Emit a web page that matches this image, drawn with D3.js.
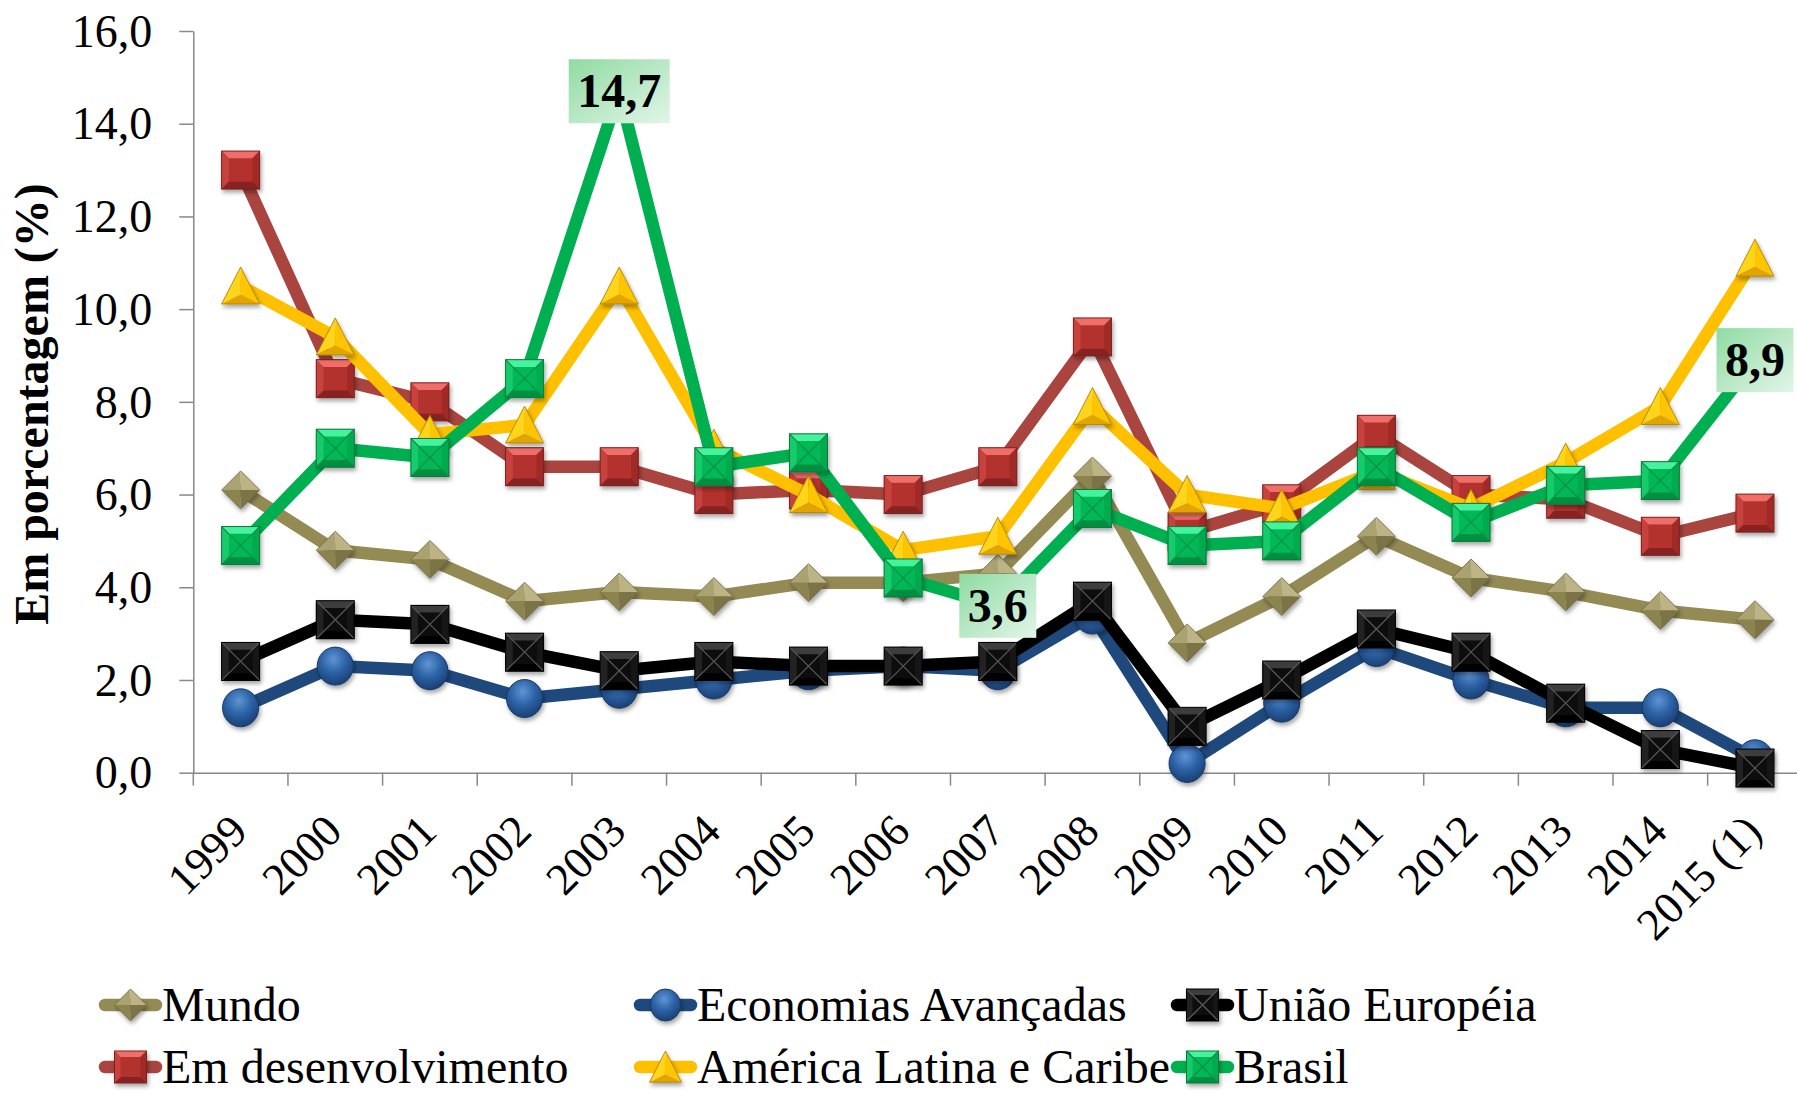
<!DOCTYPE html>
<html><head><meta charset="utf-8">
<script src="https://cdn.jsdelivr.net/npm/d3@7"></script>
<style>body{margin:0;background:#fff} svg{display:block}</style>
</head><body>
<svg id="chart" width="1797" height="1094"></svg>
<script>
// ---------- data ----------
const categories = ["1999","2000","2001","2002","2003","2004","2005","2006","2007","2008","2009","2010","2011","2012","2013","2014","2015 (1)"];
const mundo              = [6.1, 4.8, 4.6, 3.7, 3.9, 3.8, 4.1, 4.1, 4.3, 6.4, 2.8, 3.8, 5.1, 4.2, 3.9, 3.5, 3.3];
const economiasAvancadas = [1.4, 2.3, 2.2, 1.6, 1.8, 2.0, 2.2, 2.3, 2.2, 3.4, 0.2, 1.5, 2.7, 2.0, 1.4, 1.4, 0.3];
const uniaoEuropeia      = [2.4, 3.3, 3.2, 2.6, 2.2, 2.4, 2.3, 2.3, 2.4, 3.7, 1.0, 2.0, 3.1, 2.6, 1.5, 0.5, 0.1];
const emDesenvolvimento  = [13.0, 8.5, 8.0, 6.6, 6.6, 6.0, 6.1, 6.0, 6.6, 9.4, 5.2, 5.8, 7.3, 6.0, 5.9, 5.1, 5.6];
const americaLatina      = [10.5, 9.4, 7.3, 7.5, 10.5, 7.0, 6.0, 4.8, 5.1, 7.9, 6.0, 5.7, 6.5, 5.7, 6.7, 7.9, 11.1];
const brasil             = [4.9, 7.0, 6.8, 8.5, 14.7, 6.6, 6.9, 4.2, 3.6, 5.7, 4.9, 5.0, 6.6, 5.4, 6.2, 6.3, 8.9];
const yTicks = [0, 2, 4, 6, 8, 10, 12, 14, 16];
const brasilLabelIndexes = [4, 8, 16];
const yTitle = "Em porcentagem (%)";

// ---------- styles ----------
const FONT = "'Liberation Serif','Times New Roman',Times,serif";
const palettes = {
  red:   {body:"#B3322F", top:"#EF6E69", left:"#C8423E", right:"#A02B28", bottom:"#872421", stroke:"#7A2220", x:null},
  green: {body:"#00B855", top:"#45F29E", left:"#16CB6C", right:"#00AA4D", bottom:"#008F40", stroke:"#0A7A3A", x:"#0E8F48"},
  black: {body:"#0B0B0B", top:"#3C3C3C", left:"#222", right:"#161616", bottom:"#000", stroke:"#000", x:"#5a5a5a"}
};
const series = [
  {name:"Mundo", values:mundo, color:"#948A54", marker:"diamond"},
  {name:"Economias Avançadas", values:economiasAvancadas, color:"#1F497D", marker:"circle"},
  {name:"União Européia", values:uniaoEuropeia, color:"#000000", marker:"square", pal:palettes.black},
  {name:"Em desenvolvimento", values:emDesenvolvimento, color:"#A9443F", marker:"square", pal:palettes.red},
  {name:"América Latina e Caribe", values:americaLatina, color:"#FFC000", marker:"triangle"},
  {name:"Brasil", values:brasil, color:"#00B050", marker:"square", pal:palettes.green}
];

const svg = d3.select("#chart");
const defs = svg.append("defs");
const f = defs.append("filter").attr("id","shadow").attr("x","-40%").attr("y","-40%").attr("width","190%").attr("height","190%");
f.append("feDropShadow").attr("dx",1.5).attr("dy",3).attr("stdDeviation",2).attr("flood-color","#000").attr("flood-opacity",0.35);
const rg = defs.append("radialGradient").attr("id","gBlue").attr("cx","45%").attr("cy","32%").attr("r","70%");
rg.append("stop").attr("offset","0").attr("stop-color","#6094D4");
rg.append("stop").attr("offset","0.5").attr("stop-color","#2C63A7");
rg.append("stop").attr("offset","1").attr("stop-color","#1A3D70");
const lg = defs.append("linearGradient").attr("id","gLabel").attr("x1",0).attr("y1",0).attr("x2",1).attr("y2",1);
lg.append("stop").attr("offset","0").attr("stop-color","#8FDBA2");
lg.append("stop").attr("offset","1").attr("stop-color","#E2F5E8");

// ---------- scales ----------
const x = d3.scaleBand().domain(categories).range([193.3, 1802.3]).padding(0);
const y = d3.scaleLinear().domain([0, 16]).range([772.7, 31]);
const cx = c => x(c) + x.bandwidth() / 2;
const fmt = v => d3.format(".1f")(v).replace(".", ",");

// ---------- axes ----------
const AX = "#888888";
const yAxis = svg.append("g").attr("transform", `translate(${x.range()[0]},0)`)
  .call(d3.axisLeft(y).tickValues(yTicks).tickFormat(fmt).tickSize(14).tickSizeOuter(0).tickPadding(27));
yAxis.select(".domain").attr("stroke", AX).attr("stroke-width", 1.5);
yAxis.selectAll(".tick line").attr("stroke", AX).attr("stroke-width", 1.5);
yAxis.selectAll(".tick text").attr("font-family", FONT).attr("font-size", 46).attr("fill", "#000").attr("dy", "0.33em");

const xAxis = svg.append("g").attr("transform", `translate(0,${y(0)})`)
  .call(d3.axisBottom(x).tickSize(0).tickSizeOuter(0));
xAxis.select(".domain").attr("stroke", AX).attr("stroke-width", 1.5);
xAxis.selectAll(".tick text")
  .attr("font-family", FONT).attr("font-size", 45).attr("fill", "#000")
  .attr("text-anchor", "end").attr("x", 9).attr("y", 61).attr("dy", 0)
  .attr("transform", "rotate(-45,9,61)");
svg.append("g").selectAll("line").data(categories).join("line")
  .attr("x1", d => x(d)).attr("x2", d => x(d))
  .attr("y1", y(0)).attr("y2", y(0) + 13)
  .attr("stroke", AX).attr("stroke-width", 1.5);

// y title
svg.append("text").attr("transform", "translate(48,404) rotate(-90)")
  .attr("text-anchor", "middle").attr("font-family", FONT).attr("font-weight", "bold")
  .attr("font-size", 48).text(yTitle);

// ---------- markers ----------
function drawMarker(g, s, size) {
  const h = size / 2;
  const poly = (pts, fill) => g.append("polygon").attr("points", pts.map(q => q.join(",")).join(" ")).attr("fill", fill);
  if (s.marker === "square") {
    const p = s.pal, i = size * 0.19;
    g.append("rect").attr("x", -h).attr("y", -h).attr("width", size).attr("height", size).attr("fill", p.body);
    poly([[-h,-h],[h,-h],[h-i,-h+i],[-h+i,-h+i]], p.top);
    poly([[-h,-h],[-h+i,-h+i],[-h+i,h-i],[-h,h]], p.left);
    poly([[h,-h],[h,h],[h-i,h-i],[h-i,-h+i]], p.right);
    poly([[-h,h],[-h+i,h-i],[h-i,h-i],[h,h]], p.bottom);
    if (p.x) {
      g.append("line").attr("x1",-h).attr("y1",-h).attr("x2",h).attr("y2",h).attr("stroke",p.x).attr("stroke-width",1.2);
      g.append("line").attr("x1",h).attr("y1",-h).attr("x2",-h).attr("y2",h).attr("stroke",p.x).attr("stroke-width",1.2);
    }
    g.append("rect").attr("x", -h).attr("y", -h).attr("width", size).attr("height", size)
      .attr("fill", "none").attr("stroke", p.stroke).attr("stroke-width", 1);
  } else if (s.marker === "diamond") {
    const T=[0,-h], R=[h,0], B=[0,h], L=[-h,0], C=[0,0];
    poly([T,L,C], "#ABA272"); poly([T,R,C], "#BCB485"); poly([L,B,C], "#8C844F"); poly([R,B,C], "#7B7346");
    g.append("polygon").attr("points", [T,R,B,L].map(q=>q.join(",")).join(" ")).attr("fill","none").attr("stroke","#6E6840").attr("stroke-width",0.8);
  } else if (s.marker === "circle") {
    g.append("ellipse").attr("rx", h * 0.95).attr("ry", h).attr("fill", "url(#gBlue)")
      .attr("stroke", "#173A66").attr("stroke-width", 1);
  } else if (s.marker === "triangle") {
    const A=[0,-h], BL=[-h,h*0.95], BR=[h,h*0.95], C=[0,h*0.45];
    poly([A,BL,C], "#FFD51F"); poly([A,BR,C], "#FFC500"); poly([BL,BR,C], "#E2A400");
    g.append("polygon").attr("points", [A,BR,BL].map(q=>q.join(",")).join(" ")).attr("fill","none").attr("stroke","#B08600").attr("stroke-width",0.9);
  }
}

// ---------- series ----------
const line = d3.line().x((d, i) => cx(categories[i])).y(d => y(d));
series.forEach(s => {
  const g = svg.append("g");
  g.append("path").attr("d", line(s.values)).attr("fill", "none").attr("stroke", s.color)
    .attr("stroke-width", 12.5).attr("stroke-linejoin", "round").attr("stroke-linecap", "round");
  g.selectAll("g.m").data(s.values).join("g").attr("class", "m")
    .attr("transform", (d, i) => `translate(${cx(categories[i])},${y(d)})`)
    .attr("filter", "url(#shadow)")
    .each(function () { drawMarker(d3.select(this), s, 38); });
});

// ---------- data labels (Brasil) ----------
brasilLabelIndexes.forEach(i => {
  const px = cx(categories[i]), py = y(brasil[i]);
  const g = svg.append("g").attr("transform", `translate(${px},${py})`);
  const r = g.append("rect").attr("fill", "url(#gLabel)");
  const t = g.append("text").attr("text-anchor", "middle").attr("y", 16)
    .attr("font-family", FONT).attr("font-weight", "bold").attr("font-size", 48).text(fmt(brasil[i]));
  const w = t.node().getComputedTextLength() + 17;
  r.attr("x", -w / 2).attr("y", -32).attr("width", w).attr("height", 64);
});

// ---------- legend ----------
const legendCols = [99, 634, 1171];
const legendRows = [1021, 1083];
series.forEach((s, k) => {
  const lx = legendCols[k % 3], by = legendRows[Math.floor(k / 3)], my = by - 16;
  const g = svg.append("g");
  g.append("line").attr("x1", lx + 6).attr("x2", lx + 57).attr("y1", my).attr("y2", my)
    .attr("stroke", s.color).attr("stroke-width", 12.5).attr("stroke-linecap", "round");
  const mg = g.append("g").attr("transform", `translate(${lx + 31.5},${my})`).attr("filter", "url(#shadow)");
  drawMarker(mg, s, 32);
  g.append("text").attr("x", lx + 63).attr("y", by).attr("font-family", FONT).attr("font-size", 48).text(s.name);
});
</script>
</body></html>
